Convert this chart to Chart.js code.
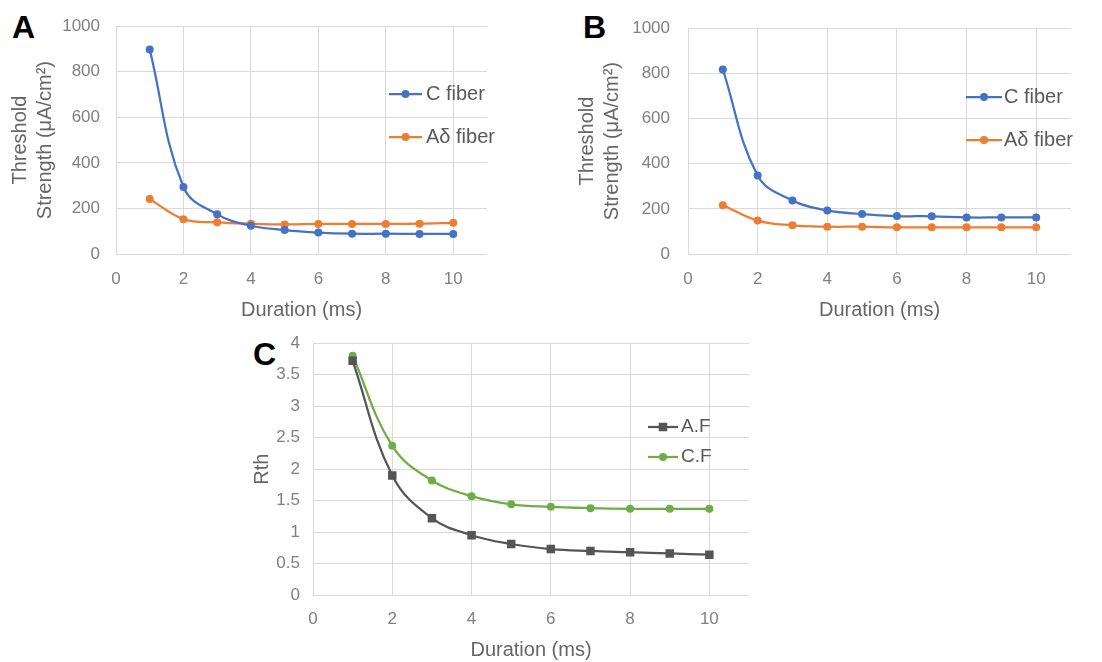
<!DOCTYPE html>
<html>
<head>
<meta charset="utf-8">
<script src="https://cdn.jsdelivr.net/npm/chart.js@4/dist/chart.umd.min.js"></script>
<style>
  body { margin: 0; background: #fff; width: 1102px; height: 662px; position: relative; overflow: hidden; }
  canvas { position: absolute; }
  .panel { position: absolute; font: bold 32px "Liberation Sans", Arial, sans-serif; line-height: 32px; color: #000; }
</style>
</head>
<body>
<div class="panel" style="left:12px;top:11px">A</div>
<div class="panel" style="left:583px;top:11px">B</div>
<div class="panel" style="left:253px;top:338px">C</div>
<canvas id="chartA" width="540" height="325" style="left:0;top:0"></canvas>
<canvas id="chartB" width="542" height="325" style="left:560px;top:0"></canvas>
<canvas id="chartC" width="620" height="342" style="left:240px;top:320px"></canvas>
<script>
// values
const durations = [1, 2, 3, 4, 5, 6, 7, 8, 9, 10];
const cFiberA  = [898, 294, 174, 124, 105, 94, 89, 89, 88, 88];
const adFiberA = [241, 153, 139, 133, 130, 132, 132, 132, 133, 137];
const cFiberB  = [817, 348, 237, 193, 177, 168, 167, 162, 162, 162];
const adFiberB = [216, 148, 127, 121, 121, 118, 118, 118, 118, 118];
const rthAF = [3.72, 1.90, 1.22, 0.95, 0.81, 0.73, 0.70, 0.68, 0.66, 0.64];
const rthCF = [3.80, 2.37, 1.82, 1.57, 1.44, 1.40, 1.38, 1.37, 1.37, 1.37];
const strengthTitle = ["Threshold", "Strength (\u03bcA/cm\u00b2)"];

const FONT = '"Liberation Sans", Arial, sans-serif';
const gridCol = "#d9d9d9";

function xy(ys) {
  return ys.map((y, i) => ({ x: durations[i], y: y }));
}

// legend drawn inside the plot, like the excel one
const overlayLegend = {
  id: "overlayLegend",
  afterDatasetsDraw(chart, args, opts) {
    const ctx = chart.ctx;
    ctx.save();
    chart.data.datasets.forEach((ds, i) => {
      const y = opts.y + i * opts.gap;
      ctx.strokeStyle = ds.borderColor;
      ctx.lineWidth = ds.borderWidth;
      ctx.beginPath();
      ctx.moveTo(opts.x, y);
      ctx.lineTo(opts.x + opts.len, y);
      ctx.stroke();
      const cx = opts.x + opts.len / 2;
      ctx.fillStyle = ds.backgroundColor;
      ctx.beginPath();
      if (ds.pointStyle === "rect") {
        const s = ds.pointRadius * Math.SQRT1_2;
        ctx.rect(cx - s, y - s, 2 * s, 2 * s);
      } else {
        ctx.arc(cx, y, ds.pointRadius, 0, Math.PI * 2);
      }
      ctx.fill();
      ctx.font = opts.fontSize + "px " + FONT;
      ctx.fillStyle = "#595959";
      ctx.textBaseline = "middle";
      ctx.textAlign = "left";
      ctx.fillText(ds.label, opts.x + opts.len + opts.textGap, y);
    });
    ctx.restore();
  }
};

function series(label, ys, color, style, radius) {
  return {
    label: label,
    data: xy(ys),
    borderColor: color,
    backgroundColor: color,
    borderWidth: 2.25,
    pointStyle: style,
    pointRadius: radius,
    pointBorderWidth: 0,
    tension: 0.4
  };
}

function makeChart(id, datasets, s) {
  return new Chart(id, {
    type: "line",
    data: { datasets: datasets },
    options: {
      responsive: false,
      animation: false,
      layout: { padding: s.pad },
      plugins: {
        legend: { display: false },
        tooltip: { enabled: false },
        overlayLegend: s.legend
      },
      scales: {
        x: {
          type: "linear",
          min: 0, max: 11,
          grid: { color: gridCol, drawTicks: false },
          border: { display: false },
          ticks: { stepSize: 2, includeBounds: false, padding: s.xTickPad, color: "#808080", font: { family: FONT, size: 17 } },
          title: { display: true, text: "Duration (ms)", color: "#666666", font: { family: FONT, size: 20, lineHeight: 1.15 }, padding: { top: 0, bottom: s.xTitlePad } },
          afterFit: (sc) => { sc.height = s.xH; }
        },
        y: {
          min: 0, max: s.yMax,
          grid: { color: gridCol, drawTicks: false },
          border: { display: false },
          ticks: { stepSize: s.yStep, padding: s.yTickPad, color: "#808080", font: { family: FONT, size: 17 }, callback: (v) => String(v) },
          title: { display: true, text: s.yTitle, color: "#666666", font: { family: FONT, size: 20, lineHeight: 1.25 }, padding: { top: s.yTitlePad, bottom: 0 } },
          afterFit: (sc) => { sc.width = s.yW; }
        }
      }
    },
    plugins: [overlayLegend]
  });
}

const blue = "#4472c4", orange = "#ed7d31", grey = "#555555", green = "#70ad47";

// Panel A
makeChart("chartA", [
  series("C fiber", cFiberA, blue, "circle", 4),
  series("A\u03b4 fiber", adFiberA, orange, "circle", 4)
], { pad: { left: 0, top: 26, right: 53, bottom: 0 }, xH: 71, yW: 116, xTitlePad: 3, xTickPad: 15,
     yMax: 1000, yStep: 200, yTickPad: 16, yTitle: strengthTitle, yTitlePad: 8,
     legend: { x: 389, y: 94, gap: 43, len: 33, textGap: 4, fontSize: 20 } });

// Panel B
makeChart("chartB", [
  series("C fiber", cFiberB, blue, "circle", 4),
  series("A\u03b4 fiber", adFiberB, orange, "circle", 4)
], { pad: { left: 0, top: 26, right: 31, bottom: 0 }, xH: 71, yW: 128, xTitlePad: 3, xTickPad: 15,
     yMax: 1000, yStep: 200, yTickPad: 18, yTitle: strengthTitle, yTitlePad: 15,
     legend: { x: 406, y: 97, gap: 43, len: 36, textGap: 2, fontSize: 20 } });

// Panel C
makeChart("chartC", [
  series("A.F", rthAF, grey, "rect", 6),
  series("C.F", rthCF, green, "circle", 4)
], { pad: { left: 0, top: 15, right: 111, bottom: 0 }, xH: 67, yW: 73, xTitlePad: 0, xTickPad: 14,
     yMax: 4, yStep: 0.5, yTickPad: 13, yTitle: "Rth", yTitlePad: 10,
     legend: { x: 408, y: 107, gap: 30, len: 30, textGap: 3, fontSize: 19 } });
</script>
</body>
</html>
